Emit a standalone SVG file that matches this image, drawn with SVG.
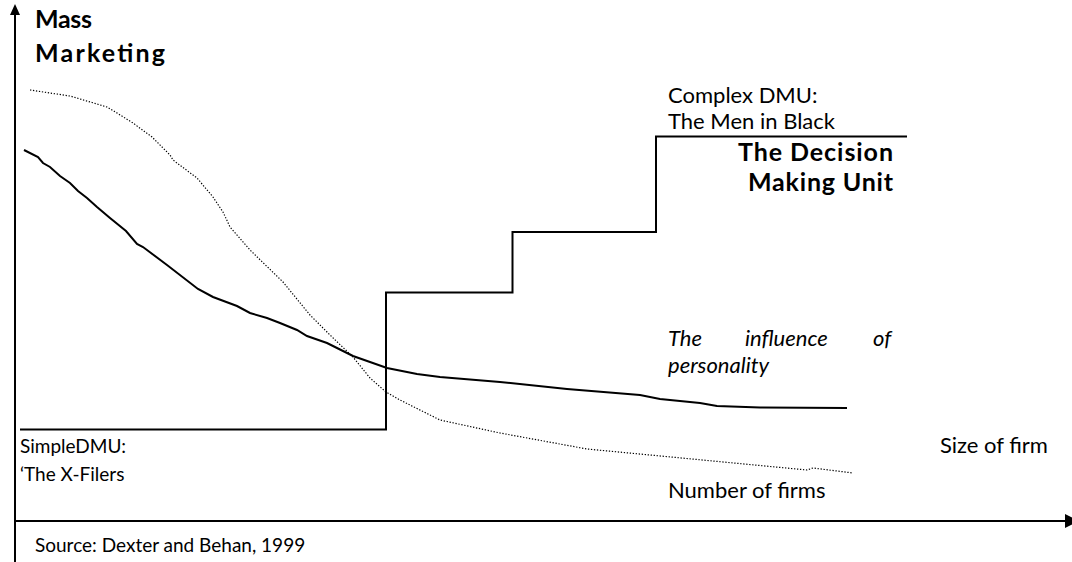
<svg xmlns="http://www.w3.org/2000/svg" width="1072" height="562" viewBox="0 0 1072 562">
<style>
.t{font-family:Lato,"Open Sans","Liberation Sans",sans-serif;font-size:19px;fill:#000}
.r{font-size:22px}
.b{font-weight:bold;font-size:25px}
.i{font-style:italic}
.ln{fill:none;stroke:#000;stroke-width:2}
.dot{fill:none;stroke:#000;stroke-width:1.2;stroke-dasharray:1.3 1.7}
</style>
<rect width="1072" height="562" fill="#fff"/>
<g id="axes">
<line class="ln" x1="15" y1="12" x2="15" y2="562"/>
<polygon points="15,4 10,15 20,15" fill="#000"/>
<line class="ln" x1="14" y1="521" x2="1066" y2="521"/>
<polygon points="1065,514 1065,528 1079,521" fill="#000"/>
</g>
<g id="connectors">
<polyline id="dmu-step" class="ln" points="20,429.5 386,429.5 386,292.5 512.5,292.5 512.5,232 656,232 656,136.5 907,136.5"/>
<polyline id="personality-curve" class="ln" points="24,150 38,157 43,163 50,167 60,176 70,183 78,191 87,198 97,207 110,218 126,231 137,244 143,247 167,265 198,289 213,297 237,306 250,313 267,318 280,323 297,330 307,336 327,343 333,346 353,356 370,362 387,368 417,374 440,377 500,382 567,389 640,395 660,399 700,403 717,406 760,407.5 847,408"/>
<polyline id="firms-curve" class="dot" points="30,90 70,96 107,107 117,113 133,123 152,137 170,155 173,160 197,178 213,197 223,212 230,227 250,250 283,282 310,315 330,335 353,357 370,378 386,392 400,400 440,420 500,433 587,449 650,455 807,470 813,468 853,473"/>
</g>
<g id="label-mass-marketing">
<text class="t b" x="35" y="28" textLength="57" lengthAdjust="spacing">Mass</text>
<text class="t b" x="35" y="62" textLength="130" lengthAdjust="spacing">Marketing</text>
</g>
<g id="label-complex-dmu">
<text class="t r" x="668" y="103">Complex DMU:</text>
<text class="t r" x="668" y="129">The Men in Black</text>
</g>
<g id="label-decision-unit">
<text class="t b" x="738" y="161" textLength="155" lengthAdjust="spacing">The Decision</text>
<text class="t b" x="748" y="191" textLength="145" lengthAdjust="spacing">Making Unit</text>
</g>
<g id="label-personality">
<text class="t r i" y="346"><tspan x="668">The</tspan><tspan x="745">influence</tspan><tspan x="873">of</tspan></text>
<text class="t r i" x="668" y="373">personality</text>
</g>
<g id="label-simple-dmu">
<text class="t" x="20" y="453">SimpleDMU:</text>
<text class="t" x="20" y="481">‘The X-Filers</text>
</g>
<g id="label-size"><text class="t r" x="940" y="453">Size of firm</text></g>
<g id="label-number"><text class="t r" x="668" y="498">Number of firms</text></g>
<g id="label-source"><text class="t" x="35" y="552">Source: Dexter and Behan, 1999</text></g>
</svg>
